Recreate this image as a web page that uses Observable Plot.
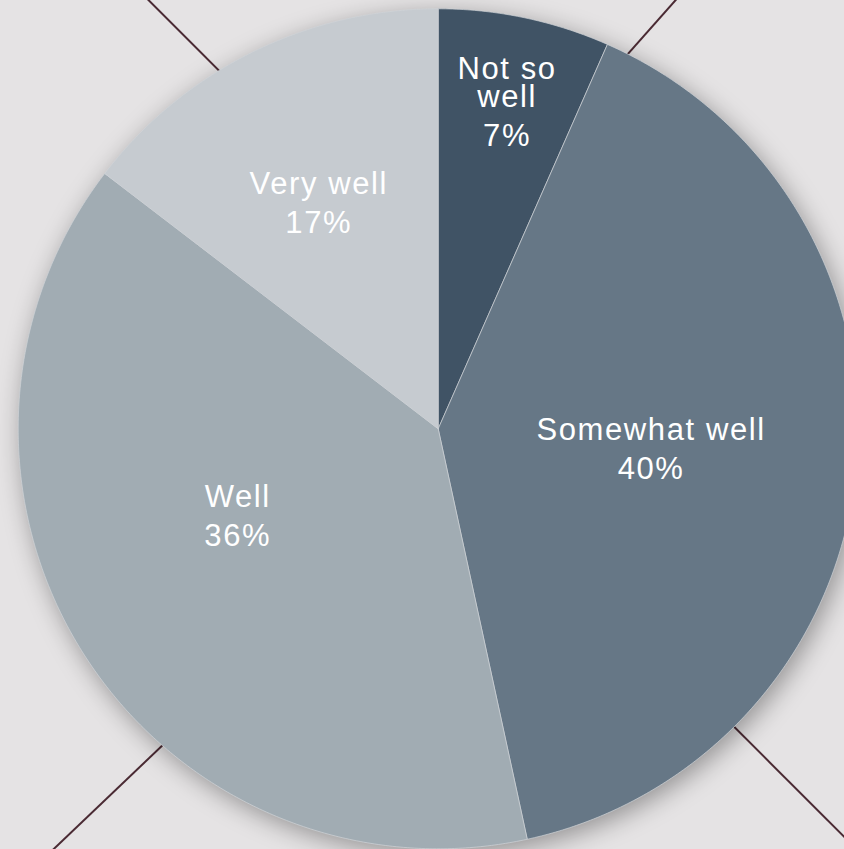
<!DOCTYPE html>
<html>
<head>
<meta charset="utf-8">
<script src="https://cdn.jsdelivr.net/npm/d3@7"></script>
<script src="https://cdn.jsdelivr.net/npm/@observablehq/plot@0.6"></script>
<style>
  html, body { margin: 0; padding: 0; background: #e5e3e4; overflow: hidden; }
  #chart svg { display: block; }
</style>
</head>
<body>
<div id="chart"></div>
<script>
// ---- data ----
const categories = ["Not so well", "Somewhat well", "Well", "Very well"];
const shares = [6.6, 40.0, 38.8, 14.6];          // slice sizes as drawn
const percentLabels = ["7%", "40%", "36%", "17%"]; // printed labels
const nameLabels = ["Not so\nwell", "Somewhat well", "Well", "Very well"];
const sliceColors = ["#405365", "#667786", "#a1acb3", "#c6cbd0"];
// decorative background lines, in chart units (pie centre = 0,0, radius = 1)
const lineFromU = [-0.713, 0.586, -0.940, 0.996];
const lineFromV = [1.044, 1.044, -1.024, -1.001];
const lineToU = [-0.185, 0.227, -0.402, 0.505];
const lineToV = [0.516, 0.639, -0.511, -0.510];

// ---- layout ----
const W = 844, H = 849, PX = 420; // pixels per unit radius
const cx = 437.7, cy = 428.3;
const xDomain = [-cx / PX, (W - cx) / PX];
const yDomain = [(cy - H) / PX, cy / PX];

const total = d3.sum(shares);
let acc = 0;
const slices = categories.map((name, i) => {
  const a0 = acc / total * 2 * Math.PI;
  acc += shares[i];
  const a1 = acc / total * 2 * Math.PI;
  return {name, a0, a1, pct: percentLabels[i], label: nameLabels[i]};
});

const polyPts = slices.flatMap(s => {
  const n = Math.max(2, Math.ceil((s.a1 - s.a0) / (Math.PI / 360)));
  const arr = [{name: s.name, u: 0, v: 0}];
  for (let k = 0; k <= n; k++) {
    const t = s.a0 + (s.a1 - s.a0) * k / n;
    arr.push({name: s.name, u: Math.sin(t), v: Math.cos(t)});
  }
  arr.push({name: s.name, u: 0, v: 0});
  return arr;
});

const guideLines = lineFromU.map((u, i) => ({u1: u, v1: lineFromV[i], u2: lineToU[i], v2: lineToV[i]}));

// label placement: radius fraction and angular nudge (degrees)
const labelLayout = {
  "Not so well":   {r: 0.797, shift: 0},
  "Somewhat well": {r: 0.509, shift: -0.6},
  "Well":          {r: 0.52,  shift: 9},
  "Very well":     {r: 0.61,  shift: -1.5}
};
const FS = 31, NAME_GAP = 28, PCT_GAP = 39, CAP = 22;
const nameRows = [], pctRows = [];
for (const s of slices) {
  const L = labelLayout[s.name];
  const ang = (s.a0 + s.a1) / 2 + L.shift * Math.PI / 180;
  const au = L.r * Math.sin(ang), av = L.r * Math.cos(ang);
  const nLines = s.label.split("\n").length;
  const span = (nLines - 1) * NAME_GAP + PCT_GAP;
  const firstBase = -span / 2 + CAP / 2;
  const lastNameBase = firstBase + (nLines - 1) * NAME_GAP;
  nameRows.push({text: s.label, u: au, v: av - lastNameBase / PX});
  pctRows.push({text: s.pct, u: au, v: av - (lastNameBase + PCT_GAP) / PX});
}

const font = "'Liberation Sans', Arial, Helvetica, sans-serif";
const chart = Plot.plot({
  width: W, height: H,
  margin: 0,
  style: {background: "#e5e3e4", letterSpacing: "1.6px"},
  x: {domain: xDomain, axis: null},
  y: {domain: yDomain, axis: null},
  color: {domain: categories, range: sliceColors},
  marks: [
    Plot.link(guideLines, {x1: "u1", y1: "v1", x2: "u2", y2: "v2", stroke: "#4a2a33", strokeWidth: 2}),
    Plot.line(polyPts, {x: "u", y: "v", z: "name", fill: "name", stroke: "#cfd3d7", strokeWidth: 0.7, curve: "linear"}),
    Plot.text(nameRows, {x: "u", y: "v", text: "text", fill: "white", fontSize: FS, fontFamily: font,
      textAnchor: "middle", lineAnchor: "bottom", lineHeight: NAME_GAP / FS}),
    Plot.text(pctRows, {x: "u", y: "v", text: "text", fill: "white", fontSize: FS, fontFamily: font,
      textAnchor: "middle", lineAnchor: "bottom"})
  ]
});
document.getElementById("chart").appendChild(chart);
d3.select(chart).selectAll('g[aria-label="line"]')
  .style("filter", "drop-shadow(4px 6px 12px rgba(0,0,0,0.35))");
</script>
</body>
</html>
